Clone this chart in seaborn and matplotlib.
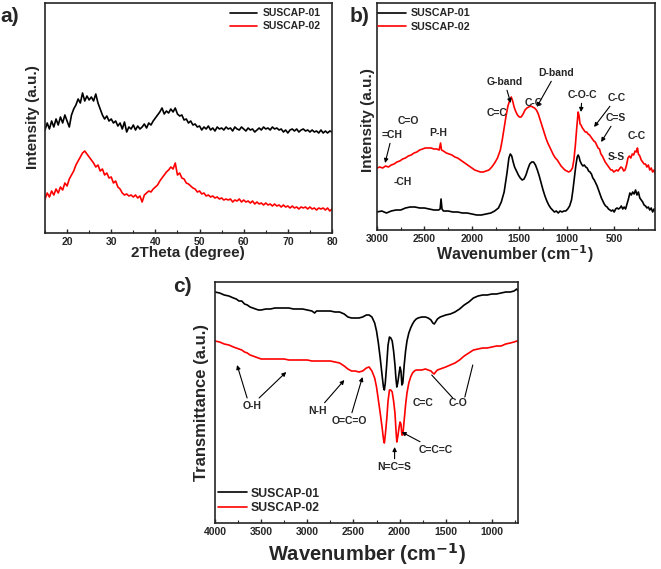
import numpy as np
import pandas as pd
import seaborn as sns
import matplotlib.pyplot as plt
from matplotlib.ticker import MultipleLocator

sns.set_style('ticks')
plt.rcParams['font.family'] = ['Liberation Sans', 'DejaVu Sans']
plt.rcParams['font.weight'] = 'bold'
plt.rcParams['axes.labelweight'] = 'bold'
plt.rcParams['mathtext.default'] = 'bf'

names = ['SUSCAP-01', 'SUSCAP-02']
colors = {'SUSCAP-01': 'black', 'SUSCAP-02': 'red'}

# a) XRD, 2theta 15..80 every 0.5 deg, intensity in a.u.
xrd_01 = [103, 110, 104, 112, 106, 114, 108, 116, 110, 118, 112, 106, 118, 124, 128, 134, 130, 140, 132, 137,
          133, 136, 132, 139, 130, 124, 118, 114, 117, 112, 114, 110, 112, 107, 110, 104, 111, 101, 106, 104,
          108, 103, 107, 104, 106, 109, 105, 110, 108, 112, 115, 118, 121, 125, 119, 122, 120, 124, 121, 125,
          119, 117, 118, 113, 114, 110, 112, 108, 109, 106, 107, 103, 106, 104, 107, 103, 105, 102, 106, 104,
          105, 103, 106, 104, 105, 102, 106, 104, 103, 106, 104, 102, 105, 103, 104, 101, 103, 105, 103, 106,
          104, 105, 103, 106, 104, 105, 103, 104, 101, 103, 100, 103, 104, 102, 104, 101, 103, 104, 102, 103,
          101, 103, 101, 102, 100, 103, 100, 102, 100, 102, 101]
xrd_02 = [34, 40, 36, 42, 38, 44, 40, 46, 43, 50, 47, 54, 58, 62, 68, 72, 76, 80, 82, 79,
          76, 73, 70, 66, 68, 62, 64, 58, 60, 55, 56, 50, 52, 46, 44, 40, 38, 39, 37, 38,
          36, 38, 35, 37, 31, 38, 40, 42, 41, 44, 46, 48, 52, 55, 58, 61, 63, 66, 64, 70,
          58, 60, 55, 54, 50, 49, 47, 45, 44, 41, 42, 39, 40, 37, 38, 36, 37, 35, 36, 34,
          35, 33, 34, 33, 34, 31, 33, 32, 34, 31, 33, 31, 32, 30, 32, 29, 31, 29, 30, 28,
          30, 28, 29, 27, 29, 27, 28, 26, 28, 26, 27, 25, 27, 25, 26, 24, 26, 25, 26, 24,
          26, 24, 25, 23, 25, 24, 25, 23, 25, 22, 24]

# b) Raman
raman_x_01 = [3000, 2950, 2900, 2850, 2800, 2750, 2700, 2650, 2600, 2550, 2500, 2450, 2400, 2350, 2335, 2325, 2315,
              2300, 2250, 2200, 2150, 2100, 2050, 2000, 1950, 1900, 1850, 1800, 1760, 1720, 1690, 1660, 1630, 1610,
              1595, 1580, 1565, 1550, 1530, 1510, 1490, 1470, 1450, 1430, 1410, 1390, 1370, 1350, 1330, 1310, 1290,
              1270, 1250, 1230, 1210, 1190, 1170, 1150, 1130, 1110, 1090, 1070, 1050, 1030, 1010, 990, 970, 950,
              935, 920, 905, 890, 880, 870, 860, 845, 830, 815, 800, 785, 770, 755, 740, 725, 710, 695, 680, 665,
              650, 635, 620, 605, 590, 575, 560, 545, 530, 515, 500, 485, 470, 455, 440, 425, 410, 395, 380, 365,
              350, 335, 320, 305, 290, 275, 260, 245, 230, 215, 200, 185, 170, 155, 140, 125, 110, 95, 80, 70]
raman_y_01 = [16, 17, 15, 17, 18, 18, 20, 21, 21, 20, 20, 19, 18, 18, 19, 29, 19,
              17, 17, 16, 16, 15, 15, 14, 13, 13, 14, 15, 17, 20, 26, 36, 55, 70,
              74, 72, 66, 61, 57, 53, 50, 48, 49, 53, 59, 64, 66, 66, 63, 58, 52,
              45, 38, 32, 27, 23, 20, 18, 16, 17, 15, 17, 16, 17, 17, 19, 22, 28,
              38, 50, 62, 71, 73, 71, 67, 64, 62, 63, 61, 60, 57, 56, 54, 50, 48, 45, 42, 38,
              34, 30, 27, 24, 22, 21, 19, 18, 17, 18, 16, 19, 20, 19, 20, 22, 19, 21, 19, 24,
              29, 35, 33, 36, 34, 38, 33, 36, 30, 28, 26, 23, 22, 20, 21, 18, 20, 16, 19, 17]
raman_x_02 = [3000, 2970, 2940, 2910, 2880, 2850, 2820, 2790, 2760, 2730, 2700, 2670, 2640, 2610, 2580, 2550, 2520,
              2490, 2460, 2430, 2400, 2370, 2345, 2330, 2320, 2300, 2270, 2240, 2210, 2180, 2150, 2120, 2090, 2060,
              2030, 2000, 1970, 1940, 1910, 1880, 1850, 1820, 1790, 1760, 1730, 1700, 1680, 1660, 1640, 1620, 1600,
              1585, 1570, 1555, 1540, 1520, 1500, 1480, 1460, 1440, 1420, 1400, 1380, 1360, 1340, 1320, 1300, 1280,
              1260, 1240, 1220, 1200, 1180, 1160, 1140, 1120, 1100, 1080, 1060, 1040, 1020, 1000, 980, 960, 940, 925,
              910, 895, 880, 870, 860, 850, 835, 820, 805, 790, 775, 760, 745, 730, 715, 700, 685, 670, 655, 640,
              625, 610, 595, 580, 565, 550, 535, 520, 505, 490, 475, 460, 445, 430, 415, 400, 385, 370, 355, 340,
              325, 310, 295, 280, 265, 255, 245, 230, 215, 200, 185, 170, 155, 140, 125, 110, 95, 80, 70]
raman_y_02 = [60, 61, 60, 62, 61, 63, 64, 66, 67, 69, 70, 72, 73, 75, 76, 78, 79,
              80, 80, 80, 79, 79, 78, 85, 78, 77, 75, 74, 73, 71, 70, 68, 66, 64,
              62, 60, 58, 57, 56, 56, 57, 58, 61, 65, 70, 78, 88, 100, 112, 122, 128,
              131, 127, 121, 117, 113, 111, 111, 114, 118, 120, 121, 122, 121, 120, 118, 114, 108,
              102, 96, 90, 85, 81, 77, 73, 70, 68, 65, 62, 60, 58, 57, 56, 57, 60, 68,
              82, 100, 116, 112, 104, 103, 100, 98, 96, 96, 94, 93, 91, 89, 87, 86, 83, 80, 79, 74,
              72, 69, 66, 64, 62, 60, 58, 58, 56, 57, 58, 57, 59, 61, 60, 57, 58, 63, 70, 72,
              70, 74, 73, 77, 76, 80, 74, 72, 68, 66, 64, 64, 61, 63, 58, 60, 56, 58, 55]

# c) FTIR
ftir_x = [4000, 3950, 3900, 3850, 3800, 3770, 3740, 3710, 3680, 3650, 3620, 3590, 3560, 3530, 3500, 3450, 3400,
          3350, 3300, 3250, 3200, 3150, 3100, 3050, 3000, 2950, 2920, 2900, 2850, 2800, 2750, 2700, 2650, 2600,
          2560, 2520, 2480, 2440, 2400, 2360, 2330, 2300, 2270, 2250, 2230, 2210, 2190, 2175, 2165, 2155, 2140,
          2125, 2110, 2095, 2080, 2065, 2050, 2040, 2030, 2020, 2005, 1995, 1985, 1975, 1965, 1950, 1935, 1920,
          1900, 1880, 1860, 1840, 1820, 1800, 1760, 1720, 1690, 1660, 1640, 1625, 1610, 1590, 1560, 1530, 1500,
          1450, 1400, 1350, 1300, 1250, 1200, 1150, 1100, 1050, 1000, 950, 900, 850, 800, 760, 730, 717]
ftir_01 = [231, 230, 228, 227, 225, 224, 222, 222, 219, 218, 216, 215, 214, 213, 213, 214, 214,
           215, 215, 215, 215, 214, 214, 214, 213, 212, 210, 212, 212, 212, 212, 211, 211, 209,
           206, 205, 205, 205, 206, 208, 208, 206, 200, 192, 180, 165, 148, 136, 133, 140, 158,
           178, 186, 185, 182, 172, 158, 145, 136, 140, 150, 156, 152, 138, 140, 158, 172, 182,
           190, 195, 199, 202, 204, 205, 206, 206, 205, 203, 200, 199, 201, 204, 206, 207, 208,
           209, 211, 214, 218, 221, 225, 227, 228, 228, 229, 229, 230, 231, 231, 232, 234, 232]
ftir_02 = [182, 181, 179, 178, 176, 175, 174, 173, 171, 170, 168, 167, 166, 165, 164, 164, 164,
           164, 164, 164, 163, 163, 163, 163, 163, 162, 162, 162, 162, 162, 162, 161, 160, 157,
           154, 152, 152, 151, 152, 155, 156, 152, 145, 136, 123, 110, 96, 84, 80, 88, 103,
           122, 133, 133, 131, 122, 110, 94, 81, 86, 96, 101, 99, 88, 88, 103, 118, 130,
           140, 146, 150, 152, 153, 153, 153, 154, 153, 152, 150, 149, 151, 153, 154, 155, 156,
           158, 160, 163, 167, 170, 173, 174, 175, 175, 176, 177, 177, 179, 180, 181, 182, 181]

xrd = pd.DataFrame({'x': list(np.linspace(15, 80, len(xrd_01))) * 2,
                    'y': xrd_01 + xrd_02,
                    'sample': [names[0]] * len(xrd_01) + [names[1]] * len(xrd_02)})
raman = pd.DataFrame({'x': raman_x_01 + raman_x_02, 'y': raman_y_01 + raman_y_02,
                      'sample': [names[0]] * len(raman_x_01) + [names[1]] * len(raman_x_02)})
ftir = pd.DataFrame({'x': ftir_x * 2, 'y': ftir_01 + ftir_02,
                     'sample': [names[0]] * len(ftir_x) + [names[1]] * len(ftir_x)})

fig = plt.figure(figsize=(6.61, 5.69), dpi=100)
ax_a = fig.add_axes([45 / 661, 1 - 233 / 569, 287 / 661, 230 / 569])
ax_b = fig.add_axes([377 / 661, 1 - 230 / 569, 278 / 661, 227 / 569])
ax_c = fig.add_axes([215 / 661, 1 - 523 / 569, 303 / 661, 241 / 569])

for ax, df in [(ax_a, xrd), (ax_b, raman), (ax_c, ftir)]:
    sns.lineplot(data=df, x='x', y='y', hue='sample', palette=colors, estimator=None,
                 linewidth=1.2, ax=ax)
    ax.set_yticks([])
    ax.tick_params(axis='x', direction='in', length=3, width=1, labelsize=7.5, pad=3)
    ax.tick_params(axis='x', which='minor', direction='in', length=2, width=0.8)
    for s in ax.spines.values():
        s.set_linewidth(1.2)
    for t in ax.get_xticklabels():
        t.set_fontweight('bold')

ax_a.set_xlim(15, 80)
ax_a.set_ylim(0, 230)
ax_a.xaxis.set_major_locator(MultipleLocator(10))
ax_a.xaxis.set_minor_locator(MultipleLocator(5))
ax_a.set_xlabel('2Theta (degree)', fontsize=11, va='top')
ax_a.xaxis.set_label_coords(0.498, -0.058)
ax_a.set_ylabel('Intensity (a.u.)', fontsize=11, va='center')
ax_a.yaxis.set_label_coords(-0.042, 0.504)
ax_a.legend(loc='upper right', bbox_to_anchor=(0.975, 0.995), borderaxespad=0, frameon=False,
            fontsize=7.5, handlelength=2.6, handletextpad=0.5, labelspacing=0.3)

ax_b.set_xlim(3000, 70)
ax_b.set_ylim(-2, 225)
ax_b.xaxis.set_major_locator(MultipleLocator(500))
ax_b.xaxis.set_minor_locator(MultipleLocator(250))
ax_b.set_xlabel('Wavenumber (cm$^{-1}$)', fontsize=11.5, va='top')
ax_b.xaxis.set_label_coords(0.496, -0.058)
ax_b.set_ylabel('Intensity (a.u.)', fontsize=11, va='center')
ax_b.yaxis.set_label_coords(-0.032, 0.485)
ax_b.legend(loc='upper left', bbox_to_anchor=(-0.01, 0.995), borderaxespad=0, frameon=False,
            fontsize=7.7, handlelength=2.6, handletextpad=0.4, labelspacing=0.35)

ax_c.set_xlim(4000, 717)
ax_c.set_ylim(0, 241)
ax_c.xaxis.set_major_locator(MultipleLocator(500))
ax_c.xaxis.set_minor_locator(MultipleLocator(250))
ax_c.set_xlabel('Wavenumber (cm$^{-1}$)', fontsize=14.5, va='top')
ax_c.xaxis.set_label_coords(0.50, -0.075)
ax_c.set_ylabel('Transmittance (a.u.)', fontsize=12, va='center')
ax_c.yaxis.set_label_coords(-0.043, 0.502)
ax_c.legend(loc='lower left', bbox_to_anchor=(-0.007, 0.017), borderaxespad=0, frameon=False,
            fontsize=8.8, handlelength=2.4, handletextpad=0.25, labelspacing=0.2)

arrow = dict(arrowstyle='-|>', color='black', lw=0.8, mutation_scale=6, shrinkA=0, shrinkB=0)
plain = dict(arrowstyle='-', color='black', lw=0.8, shrinkA=0, shrinkB=0)
fs = 7.5

# b) Raman labels
ax_b.annotate('G-band', xy=(1591, 125), xytext=(1655, 146), ha='center', va='center', fontsize=fs, arrowprops=arrow)
ax_b.text(1739, 115, 'C=C', ha='center', va='center', fontsize=fs)
ax_b.annotate('D-band', xy=(1316, 121), xytext=(1114, 155), ha='center', va='center', fontsize=fs, arrowprops=arrow)
ax_b.text(1347, 125, 'C-C', ha='center', va='center', fontsize=fs)
ax_b.annotate('C-O-C', xy=(850, 116), xytext=(839, 133), ha='center', va='center', fontsize=fs, arrowprops=arrow)
ax_b.annotate('C-C', xy=(712, 101), xytext=(479, 130), ha='center', va='center', fontsize=fs, arrowprops=arrow)
ax_b.annotate('C=S', xy=(638, 86), xytext=(479, 110), ha='center', va='center', fontsize=fs, arrowprops=arrow)
ax_b.text(479, 71, 'S-S', ha='center', va='center', fontsize=fs)
ax_b.text(267, 92, 'C-C', ha='center', va='center', fontsize=fs)
ax_b.annotate('=CH', xy=(2915, 65), xytext=(2841, 93), ha='center', va='center', fontsize=fs, arrowprops=arrow)
ax_b.text(2672, 107, 'C=O', ha='center', va='center', fontsize=fs)
ax_b.text(2354, 95, 'P-H', ha='center', va='center', fontsize=fs)
ax_b.text(2725, 46, '-CH', ha='center', va='center', fontsize=fs)

# c) FTIR labels
ax_c.text(3598, 117, 'O-H', ha='center', va='center', fontsize=fs)
ax_c.annotate('', xy=(3761, 158), xytext=(3652, 125), arrowprops=arrow)
ax_c.annotate('', xy=(3228, 151), xytext=(3522, 125), arrowprops=arrow)
ax_c.annotate('N-H', xy=(2598, 143), xytext=(2891, 112), ha='center', va='center', fontsize=fs, arrowprops=arrow)
ax_c.annotate('O=C=O', xy=(2402, 146), xytext=(2543, 102), ha='center', va='center', fontsize=fs, arrowprops=arrow)
ax_c.text(1750, 120, 'C=C', ha='center', va='center', fontsize=fs)
ax_c.text(1370, 120, 'C-O', ha='center', va='center', fontsize=fs)
ax_c.annotate('', xy=(1652, 148), xytext=(1424, 125), arrowprops=plain)
ax_c.annotate('', xy=(1207, 158), xytext=(1293, 126), arrowprops=plain)
ax_c.annotate('C=C=C', xy=(1978, 91), xytext=(1609, 73), ha='center', va='center', fontsize=fs, arrowprops=arrow)
ax_c.annotate('N=C=S', xy=(2054, 76), xytext=(2054, 56), ha='center', va='center', fontsize=fs, arrowprops=arrow)

fig.text(10 / 661, 1 - 17 / 569, 'a)', fontsize=15, ha='center', va='center')
fig.text(360 / 661, 1 - 17 / 569, 'b)', fontsize=15, ha='center', va='center')
fig.text(182 / 661, 1 - 287 / 569, 'c)', fontsize=15, ha='center', va='center')

fig.savefig('out.png', dpi=100)
